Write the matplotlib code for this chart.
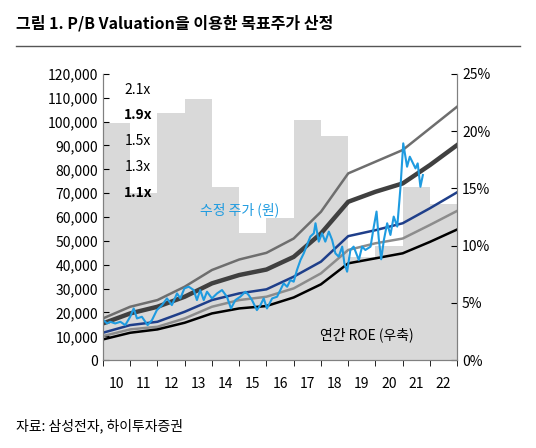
import matplotlib
matplotlib.use("Agg")
import matplotlib.pyplot as plt
import numpy as np

plt.rcParams['font.family'] = ['Noto Sans CJK KR', 'DejaVu Sans']

years = ['10', '11', '12', '13', '14', '15', '16', '17', '18', '19', '20', '21', '22']
roe = [20.7, 14.6, 21.6, 22.8, 15.1, 11.1, 12.4, 21.0, 19.6, 9.0, 10.0, 15.1, 13.6]

# 밴드 (천원), 연도 경계 0..13
band_21 = [17.5, 22.4, 25.2, 30.8, 37.8, 42.2, 45.0, 51.0, 62.2, 78.3, 83.2, 88.1, 97.2, 106.3]
band_19 = [15.4, 19.6, 22.4, 26.6, 32.2, 35.7, 38.0, 43.3, 53.1, 66.4, 70.6, 74.1, 81.8, 90.2]
band_15 = [11.5, 14.7, 16.1, 20.3, 25.2, 28.0, 29.7, 35.0, 41.3, 52.0, 54.5, 57.4, 63.7, 70.4]
band_13 = [10.1, 12.9, 14.0, 17.5, 22.4, 25.2, 26.6, 30.1, 36.4, 46.2, 49.0, 51.0, 56.7, 62.6]
band_11 = [8.7, 11.5, 12.9, 15.7, 19.6, 21.7, 22.7, 26.3, 31.8, 40.6, 42.7, 44.8, 49.6, 54.8]

price_t = [0.02, .15, .27, .45, .64, .82, 1.0, 1.13, 1.25, 1.43, 1.64, 1.80, 1.98, 2.17, 2.35, 2.53,
           2.72, 2.84, 2.99, 3.15, 3.33, 3.45, 3.57, 3.70, 3.82, 4.00, 4.19, 4.37, 4.55, 4.70, 4.86,
           5.04, 5.23, 5.35, 5.47, 5.65, 5.78, 5.90, 6.02, 6.21, 6.39, 6.51, 6.63, 6.76, 6.88, 7.00,
           7.12, 7.25, 7.37, 7.49, 7.61, 7.74, 7.80, 7.92, 8.04, 8.16, 8.29, 8.41, 8.53, 8.65, 8.78,
           8.86, 8.96, 9.08, 9.20, 9.39, 9.51, 9.63, 9.82, 9.94, 10.04, 10.12, 10.21, 10.31, 10.43,
           10.55, 10.67, 10.80, 10.92, 11.02, 11.16, 11.26, 11.35, 11.47, 11.55, 11.65, 11.74]
price = [16.8, 15.4, 16.1, 15.4, 16.1, 14.7, 18.2, 21.7, 17.5, 18.2, 14.7, 16.8, 21.0, 23.1, 25.9,
         23.1, 28.0, 25.9, 30.1, 30.8, 29.4, 25.2, 29.4, 25.2, 28.7, 25.9, 28.0, 29.4, 26.6, 21.7,
         25.2, 26.6, 28.7, 27.3, 25.2, 21.0, 23.1, 25.9, 21.7, 25.9, 26.6, 29.4, 32.2, 30.8, 33.6,
         32.9, 37.8, 42.0, 44.8, 48.3, 51.8, 53.2, 57.4, 49.7, 53.2, 49.7, 53.9, 50.4, 44.8, 43.4,
         47.6, 40.6, 37.1, 46.2, 47.6, 42.0, 47.6, 46.2, 47.6, 56.0, 62.3, 51.1, 42.3, 50.4, 57.4,
         52.5, 60.2, 56.0, 72.7, 90.9, 81.1, 85.3, 83.2, 80.4, 82.5, 72.7, 77.6]

fig = plt.figure(figsize=(5.36, 4.48), dpi=100)
ax = fig.add_axes([0.192, 0.196, 0.661, 0.639])
ax2 = ax.twinx()
ax.set_zorder(2)
ax.patch.set_visible(False)

x = np.arange(len(years))
ax2.bar(x, roe, width=1.0, align='edge', color='#d9d9d9', zorder=1)
ax2.set_ylim(0, 25)
ax2.set_yticks(np.arange(0, 26, 5))
ax2.set_yticklabels([f'{v}%' for v in range(0, 26, 5)])

xb = np.arange(len(band_21))
ax.plot(xb, band_21, color='#6e6e6e', lw=1.8)
ax.plot(xb, band_19, color='#404040', lw=3.2)
ax.plot(xb, band_15, color='#1f3f8a', lw=1.8)
ax.plot(xb, band_13, color='#8c8c8c', lw=1.8)
ax.plot(xb, band_11, color='#000000', lw=1.8)
ax.plot(price_t, price, color='#1e9be0', lw=1.5)

ax.set_xlim(0, 13)
ax.set_ylim(0, 120)
ax.set_yticks(np.arange(0, 121, 10))
ax.set_yticklabels([f'{v*1000:,}' for v in range(0, 121, 10)])
ax.set_xticks(x + 0.5)
ax.set_xticklabels(years)
ax.set_xticks(np.arange(14), minor=True)
ax.tick_params(axis='x', which='major', length=0, pad=12)
ax.tick_params(axis='x', which='minor', length=4, direction='out')
ax.tick_params(axis='y', direction='in', length=4)
ax2.tick_params(axis='y', direction='in', length=4)
for a in (ax, ax2):
    a.tick_params(labelsize=10)
    a.spines['top'].set_visible(False)
    for s in a.spines.values():
        s.set_color('#808080')

lx = 0.098
ax.text(lx, 0.945, '2.1x', transform=ax.transAxes, fontsize=10, ha='center', va='center')
ax.text(lx, 0.855, '1.9x', transform=ax.transAxes, fontsize=10, ha='center', va='center', fontweight='bold')
ax.text(lx, 0.765, '1.5x', transform=ax.transAxes, fontsize=10, ha='center', va='center')
ax.text(lx, 0.675, '1.3x', transform=ax.transAxes, fontsize=10, ha='center', va='center')
ax.text(lx, 0.585, '1.1x', transform=ax.transAxes, fontsize=10, ha='center', va='center', fontweight='bold')
ax.text(5.0, 63.0, '수정 주가 (원)', color='#1e9be0', fontsize=10, ha='center', va='center')
ax.text(9.7, 10.5, '연간 ROE (우축)', color='black', fontsize=10, ha='center', va='center')

fig.text(0.03, 0.948, '그림 1. P/B Valuation을 이용한 목표주가 산정', fontsize=11.5, fontweight='bold', va='center')
fig.add_artist(plt.Line2D([0.03, 0.97], [0.898, 0.898], color='#555555', lw=1))
fig.text(0.03, 0.05, '자료: 삼성전자, 하이투자증권', fontsize=10, va='center')

fig.savefig('out.png', dpi=100)
